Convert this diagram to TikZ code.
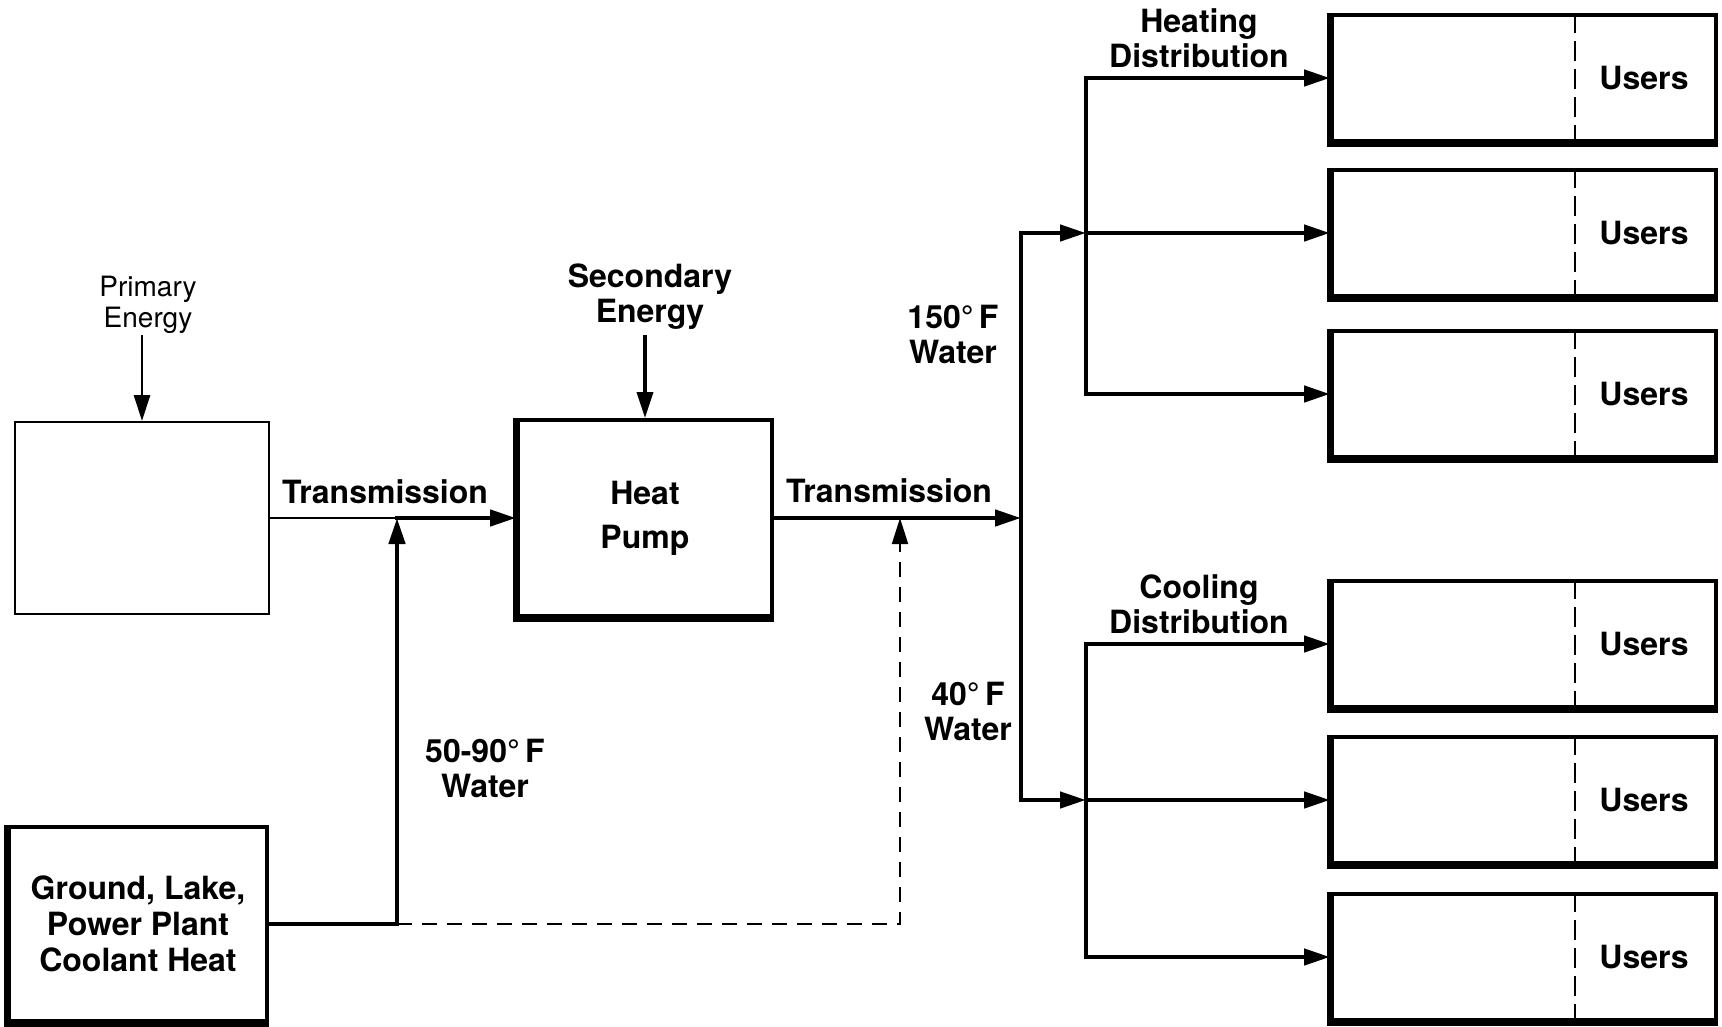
\documentclass[tikz,border=0pt]{standalone}
\usepackage{fontspec}
\setmainfont{TeX Gyre Heros}
\usetikzlibrary{arrows.meta}

\tikzset{
  boldlbl/.style={font=\fontsize{32}{35}\selectfont\bfseries,align=center,inner sep=0pt},
  lightlbl/.style={font=\fontsize{28}{31}\selectfont,align=center,inner sep=0pt},
  openbox/.style={draw,line width=2pt,minimum width=254pt,minimum height=192pt},
  heavybox/.style={draw,line width=4pt,align=center,inner sep=0pt},
  userbox/.style={heavybox,minimum width=384pt,minimum height=126pt},
  shadowedge/.style={line width=7pt},
  pipe/.style={line width=4.5pt,line cap=rect},
  thinpipe/.style={line width=2pt},
  tip/.style={-{Triangle[length=26pt,width=16pt]}},
  returnpipe/.style={line width=2pt,dash pattern=on 15pt off 10pt},
  divider/.style={line width=1.8pt,dash pattern=on 20pt off 8pt},
}

\begin{document}
\begin{tikzpicture}[x=1pt,y=-1pt]
\useasboundingbox (0,0) rectangle (1722,1026);

% sources and heat pump
\node[openbox] (prim) at (142,518) {};
\node[lightlbl] (primlbl) at (148,305) {Primary\\Energy};
\coordinate (primin) at (142,335);
\draw[thinpipe,line width=2.8pt,tip] (primin) -- (prim.north);

\node[heavybox,minimum width=258pt,minimum height=194pt,font=\fontsize{32}{36}\selectfont\bfseries] (grnd) at (138,924) {Ground, Lake,\\Power Plant\\Coolant Heat};
\draw[shadowedge] (grnd.north west) |- (grnd.south east);

\node[heavybox,minimum width=254pt,minimum height=196pt,font=\fontsize{32}{44}\selectfont\bfseries] (hp) at (645,518) {Heat\\Pump};
\draw[shadowedge] (hp.north west) |- (hp.south east);
\node[boldlbl] (seclbl) at (650,297) {Secondary\\Energy};
\coordinate (secin) at (645,335);
\draw[pipe,line width=3.5pt,line cap=butt,tip] (secin) -- (hp.north);

% transmission lines
\coordinate (jleft) at (397,518);
\coordinate (jground) at (jleft |- grnd.east);
\coordinate (jret) at (900,518);
\coordinate (jmain) at (1021,518);
\node[boldlbl] (transl) at (385,492) {Transmission};
\node[boldlbl] (transr) at (889,491) {Transmission};
\node[boldlbl] (srclbl) at (485,768) {50-90°\,F\\Water};
\draw[thinpipe] (prim.east) -- (jleft);
\draw[pipe,tip] (jleft) -- (hp.west);
\draw[pipe] (grnd.east) -- (jground);
\draw[pipe,tip] (jground) -- (jleft);
\draw[returnpipe,tip] (jground) -| (jret);
\draw[pipe,tip] (hp.east) -- (jmain);

% users
\node[userbox] (u1) at (1524,78) {};
\node[userbox] (u2) at (1524,233) {};
\node[userbox] (u3) at (1524,394) {};
\node[userbox] (u4) at (1524,644) {};
\node[userbox] (u5) at (1524,800) {};
\node[userbox] (u6) at (1524,957) {};
\draw[shadowedge] (u1.north west) |- (u1.south east);
\draw[shadowedge] (u2.north west) |- (u2.south east);
\draw[shadowedge] (u3.north west) |- (u3.south east);
\draw[shadowedge] (u4.north west) |- (u4.south east);
\draw[shadowedge] (u5.north west) |- (u5.south east);
\draw[shadowedge] (u6.north west) |- (u6.south east);
\draw[divider] ([xshift=51pt]u1.north) -- ([xshift=51pt]u1.south);
\draw[divider] ([xshift=51pt]u2.north) -- ([xshift=51pt]u2.south);
\draw[divider] ([xshift=51pt]u3.north) -- ([xshift=51pt]u3.south);
\draw[divider] ([xshift=51pt]u4.north) -- ([xshift=51pt]u4.south);
\draw[divider] ([xshift=51pt]u5.north) -- ([xshift=51pt]u5.south);
\draw[divider] ([xshift=51pt]u6.north) -- ([xshift=51pt]u6.south);
\node[boldlbl] (usr1) at ([xshift=120pt]u1.center) {Users};
\node[boldlbl] (usr2) at ([xshift=120pt]u2.center) {Users};
\node[boldlbl] (usr3) at ([xshift=120pt]u3.center) {Users};
\node[boldlbl] (usr4) at ([xshift=120pt]u4.center) {Users};
\node[boldlbl] (usr5) at ([xshift=120pt]u5.center) {Users};
\node[boldlbl] (usr6) at ([xshift=120pt]u6.center) {Users};

% distribution
\coordinate (jhot) at (jmain |- u2.west);
\coordinate (jcold) at (jmain |- u5.west);
\coordinate (hbus) at (1086,233);
\coordinate (cbus) at (1086,800);
\node[boldlbl] (hotlbl) at (953,334) {150°\,F\\Water};
\node[boldlbl] (coldlbl) at (968,711) {40°\,F\\Water};
\node[boldlbl] (heatlbl) at (1199,38) {Heating\\Distribution};
\node[boldlbl] (coollbl) at (1199,604) {Cooling\\Distribution};
\draw[pipe] (jhot) -- (jcold);
\draw[pipe,tip] (jhot) -- (hbus);
\draw[pipe,tip] (jcold) -- (cbus);
\draw[pipe,tip] (hbus |- u3.west) |- (u1.west);
\draw[pipe,tip] (hbus) -- (u2.west);
\draw[pipe,tip] (hbus |- u3.west) -- (u3.west);
\draw[pipe,tip] (cbus |- u6.west) |- (u4.west);
\draw[pipe,tip] (cbus) -- (u5.west);
\draw[pipe,tip] (cbus |- u6.west) -- (u6.west);
\end{tikzpicture}
\end{document}
